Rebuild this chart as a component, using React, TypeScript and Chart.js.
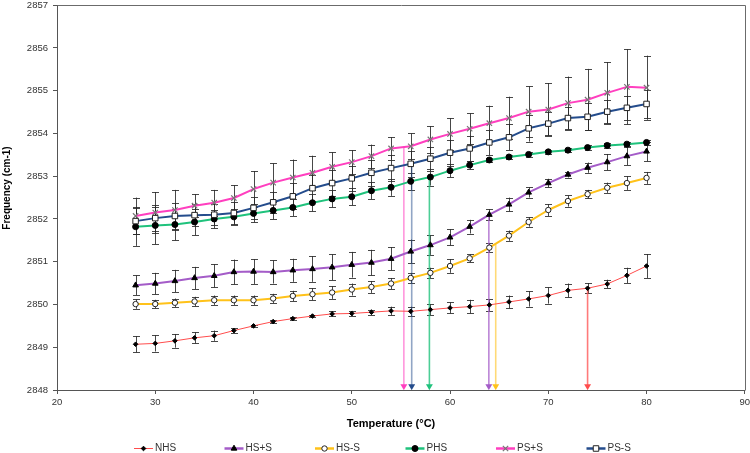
import React, { useEffect, useRef } from "react";
import { Chart, registerables } from "chart.js";

Chart.register(...registerables);

// ---- data ----
const temperatures = [28, 30, 32, 34, 36, 38, 40, 42, 44, 46, 48, 50, 52, 54, 56, 58, 60, 62, 64, 66, 68, 70, 72, 74, 76, 78, 80];

const seriesNames = ["NHS", "HS+S", "HS-S", "PHS", "PS+S", "PS-S"];

const nhs = [2849.07, 2849.09, 2849.15, 2849.22, 2849.27, 2849.39, 2849.5, 2849.6, 2849.67, 2849.73, 2849.78, 2849.79, 2849.82, 2849.85, 2849.84, 2849.88, 2849.92, 2849.95, 2849.99, 2850.06, 2850.13, 2850.21, 2850.33, 2850.38, 2850.48, 2850.68, 2850.9];
const nhsErr = [0.19, 0.19, 0.16, 0.13, 0.12, 0.06, 0.03, 0.03, 0.03, 0.03, 0.06, 0.06, 0.06, 0.1, 0.11, 0.13, 0.13, 0.16, 0.14, 0.15, 0.18, 0.19, 0.16, 0.12, 0.1, 0.18, 0.28];

const hsPlus = [2850.45, 2850.49, 2850.55, 2850.62, 2850.67, 2850.76, 2850.77, 2850.76, 2850.8, 2850.83, 2850.87, 2850.93, 2850.98, 2851.07, 2851.24, 2851.39, 2851.57, 2851.82, 2852.1, 2852.34, 2852.62, 2852.84, 2853.04, 2853.2, 2853.33, 2853.47, 2853.58];
const hsPlusErr = [0.23, 0.25, 0.26, 0.26, 0.27, 0.29, 0.29, 0.27, 0.27, 0.3, 0.3, 0.3, 0.3, 0.27, 0.28, 0.23, 0.19, 0.16, 0.13, 0.16, 0.12, 0.1, 0.07, 0.12, 0.19, 0.21, 0.23];

const hsMinus = [2850.01, 2850.01, 2850.04, 2850.07, 2850.1, 2850.1, 2850.1, 2850.14, 2850.2, 2850.24, 2850.28, 2850.35, 2850.41, 2850.49, 2850.62, 2850.74, 2850.9, 2851.08, 2851.33, 2851.61, 2851.93, 2852.21, 2852.42, 2852.58, 2852.73, 2852.84, 2852.96];
const hsMinusErr = [0.11, 0.1, 0.1, 0.11, 0.11, 0.11, 0.11, 0.11, 0.12, 0.14, 0.15, 0.14, 0.14, 0.13, 0.12, 0.12, 0.16, 0.09, 0.11, 0.12, 0.11, 0.14, 0.13, 0.1, 0.12, 0.16, 0.14];

const phs = [2851.82, 2851.85, 2851.87, 2851.93, 2852.0, 2852.05, 2852.13, 2852.2, 2852.27, 2852.38, 2852.47, 2852.52, 2852.66, 2852.74, 2852.88, 2852.98, 2853.13, 2853.26, 2853.38, 2853.45, 2853.51, 2853.57, 2853.61, 2853.67, 2853.72, 2853.75, 2853.79];
const phsErr = [0.45, 0.44, 0.37, 0.31, 0.22, 0.19, 0.21, 0.21, 0.2, 0.2, 0.2, 0.2, 0.2, 0.2, 0.2, 0.2, 0.15, 0.1, 0.05, 0.05, 0.05, 0.05, 0.05, 0.05, 0.05, 0.05, 0.05];

const psPlus = [2852.07, 2852.15, 2852.21, 2852.31, 2852.38, 2852.49, 2852.7, 2852.85, 2852.97, 2853.08, 2853.22, 2853.33, 2853.47, 2853.65, 2853.7, 2853.86, 2853.99, 2854.11, 2854.24, 2854.36, 2854.51, 2854.56, 2854.71, 2854.79, 2854.95, 2855.09, 2855.07];
const psPlusErr = [0.43, 0.48, 0.47, 0.27, 0.3, 0.3, 0.42, 0.45, 0.42, 0.4, 0.34, 0.28, 0.27, 0.26, 0.3, 0.31, 0.37, 0.36, 0.41, 0.5, 0.59, 0.62, 0.62, 0.72, 0.72, 0.88, 0.75];

const psMinus = [2851.95, 2852.02, 2852.07, 2852.09, 2852.1, 2852.14, 2852.26, 2852.39, 2852.53, 2852.72, 2852.84, 2852.95, 2853.08, 2853.19, 2853.29, 2853.41, 2853.55, 2853.65, 2853.79, 2853.91, 2854.12, 2854.23, 2854.36, 2854.39, 2854.51, 2854.6, 2854.69];
const psMinusErr = [0.3, 0.3, 0.3, 0.25, 0.25, 0.25, 0.25, 0.25, 0.3, 0.3, 0.3, 0.3, 0.3, 0.3, 0.3, 0.28, 0.3, 0.3, 0.3, 0.3, 0.31, 0.27, 0.26, 0.32, 0.27, 0.28, 0.33];

// transition markers (vertical arrows): order PS+S, PS-S, PHS, HS+S, HS-S, NHS
const arrowSeries = [4, 5, 3, 1, 2, 0];
const arrowX = [55.3, 56.1, 57.9, 63.95, 64.65, 74.0];
const arrowTop = [2853.68, 2853.3, 2852.97, 2852.1, 2851.4, 2850.38];
const arrowBottom = 2848.09;

const xTicks = [20, 30, 40, 50, 60, 70, 80, 90];
const yMin = 2848;
const yMax = 2857;

// ---- styles ----
const FONT = "'Liberation Sans', Arial, sans-serif";
const seriesValues = [nhs, hsPlus, hsMinus, phs, psPlus, psMinus];
const seriesErrors = [nhsErr, hsPlusErr, hsMinusErr, phsErr, psPlusErr, psMinusErr];
const lineColors = ["#ff4d4d", "#a45cc8", "#ffc21a", "#1fc27c", "#ff3fbf", "#244c8c"];
const arrowLineColors = ["rgba(255,77,77,0.75)", "rgba(164,92,200,0.75)", "rgba(255,194,26,0.6)", "rgba(31,194,124,0.8)", "rgba(255,63,191,0.55)", "rgba(36,76,140,0.5)"];
const lineWidths = [1, 2, 2, 2, 2, 2];
const markerStyles = ["rectRot", "triangle", "circle", "circle", "crossRot", "rect"];
const markerRadius = [2.3, 3.3, 2.7, 3, 3.8, 3.9];
const markerFill = ["#000", "#000", "#fff", "#000", "#777", "#fff"];
const markerStroke = ["#000", "#000", "#222", "#000", "#777", "#222"];

function drawMarker(ctx: CanvasRenderingContext2D, i: number, x: number, y: number) {
  const r = markerRadius[i];
  const st = markerStyles[i];
  ctx.save();
  ctx.fillStyle = markerFill[i];
  ctx.strokeStyle = markerStroke[i];
  ctx.lineWidth = 1;
  ctx.beginPath();
  if (st === "circle") {
    ctx.arc(x, y, r, 0, Math.PI * 2);
    ctx.fill();
    ctx.stroke();
  } else if (st === "rect") {
    const s = r * Math.SQRT1_2;
    ctx.rect(x - s, y - s, 2 * s, 2 * s);
    ctx.fill();
    ctx.stroke();
  } else if (st === "rectRot") {
    ctx.moveTo(x, y - r);
    ctx.lineTo(x + r, y);
    ctx.lineTo(x, y + r);
    ctx.lineTo(x - r, y);
    ctx.closePath();
    ctx.fill();
    ctx.stroke();
  } else if (st === "triangle") {
    ctx.moveTo(x, y - r);
    ctx.lineTo(x + r * 0.866, y + r * 0.5);
    ctx.lineTo(x - r * 0.866, y + r * 0.5);
    ctx.closePath();
    ctx.fill();
    ctx.stroke();
  } else if (st === "crossRot") {
    const s = r * Math.SQRT1_2;
    ctx.moveTo(x - s, y - s);
    ctx.lineTo(x + s, y + s);
    ctx.moveTo(x + s, y - s);
    ctx.lineTo(x - s, y + s);
    ctx.lineWidth = 1.2;
    ctx.stroke();
  }
  ctx.restore();
}

const errorBarPlugin = {
  id: "errorBars",
  beforeDatasetsDraw(chart: any) {
    const ctx = chart.ctx;
    const yScale = chart.scales.y;
    ctx.save();
    ctx.strokeStyle = "rgba(40,40,40,0.85)";
    ctx.lineWidth = 1;
    chart.data.datasets.forEach((ds: any, di: number) => {
      if (!ds.errors) return;
      const meta = chart.getDatasetMeta(di);
      meta.data.forEach((pt: any, j: number) => {
        const v = ds.data[j].y;
        const e = ds.errors[j];
        const x = Math.round(pt.x) + 0.5;
        const y1 = yScale.getPixelForValue(v + e);
        const y2 = yScale.getPixelForValue(v - e);
        ctx.beginPath();
        ctx.moveTo(x, y1);
        ctx.lineTo(x, y2);
        ctx.moveTo(x - 3.5, Math.round(y1) + 0.5);
        ctx.lineTo(x + 3.5, Math.round(y1) + 0.5);
        ctx.moveTo(x - 3.5, Math.round(y2) + 0.5);
        ctx.lineTo(x + 3.5, Math.round(y2) + 0.5);
        ctx.stroke();
      });
    });
    ctx.restore();
  },
};

const decorPlugin = {
  id: "decor",
  afterDraw(chart: any) {
    const ctx = chart.ctx;
    const a = chart.chartArea;
    ctx.save();
    // top & right frame
    ctx.strokeStyle = "#6b6b6b";
    ctx.lineWidth = 1;
    ctx.beginPath();
    ctx.moveTo(Math.round(a.left) + 0.5, Math.round(a.top) + 0.5);
    ctx.lineTo(Math.round(a.right) + 0.5, Math.round(a.top) + 0.5);
    ctx.lineTo(Math.round(a.right) + 0.5, Math.round(a.bottom) + 0.5);
    ctx.stroke();

    // axis titles
    ctx.fillStyle = "#000";
    ctx.textAlign = "center";
    ctx.textBaseline = "middle";
    ctx.font = `bold 11px ${FONT}`;
    ctx.fillText("Temperature (°C)", 391, 424);
    ctx.save();
    ctx.translate(7, 188);
    ctx.rotate(-Math.PI / 2);
    ctx.font = `bold 10px ${FONT}`;
    ctx.fillText("Frequency (cm-1)", 0, 0);
    ctx.restore();

    // legend
    const ly = 448.5;
    ctx.font = `10px ${FONT}`;
    ctx.textAlign = "left";
    seriesNames.forEach((name, i) => {
      const x0 = 134 + i * 90.5;
      ctx.strokeStyle = lineColors[i];
      ctx.lineWidth = i === 0 ? 1 : 2.5;
      ctx.beginPath();
      ctx.moveTo(x0, ly);
      ctx.lineTo(x0 + 19, ly);
      ctx.stroke();
      drawMarker(ctx, i, x0 + 9.5, ly);
      ctx.fillStyle = "#333";
      ctx.fillText(name, x0 + 21, ly);
    });
    ctx.restore();
  },
};

export default function App() {
  const ref = useRef<HTMLCanvasElement>(null);

  useEffect(() => {
    document.body.style.margin = "0";
    Chart.defaults.font.family = FONT;

    const seriesDatasets = seriesNames.map((name, i) => ({
      type: "line" as const,
      label: name,
      data: temperatures.map((t, j) => ({ x: t, y: seriesValues[i][j] })),
      errors: seriesErrors[i],
      borderColor: lineColors[i],
      borderWidth: lineWidths[i],
      pointStyle: markerStyles[i],
      pointRadius: markerRadius[i],
      pointBackgroundColor: markerFill[i],
      pointBorderColor: markerStroke[i],
      pointBorderWidth: markerStyles[i] === "crossRot" ? 1.2 : 1,
      tension: 0,
      fill: false,
      order: 6 - i,
    }));

    const arrowDatasets = arrowSeries.map((si, k) => ({
      type: "line" as const,
      label: "arrow" + k,
      data: [
        { x: arrowX[k], y: arrowTop[k] },
        { x: arrowX[k], y: arrowBottom },
      ],
      borderColor: arrowLineColors[si],
      borderWidth: 1.6,
      pointStyle: "triangle",
      rotation: 180,
      pointRadius: [0, 4],
      pointBackgroundColor: lineColors[si],
      pointBorderColor: lineColors[si],
      pointBorderWidth: 0,
      tension: 0,
      fill: false,
      order: 10,
    }));

    const chart = new Chart(ref.current as HTMLCanvasElement, {
      type: "line",
      data: { datasets: [...seriesDatasets, ...arrowDatasets] as any },
      plugins: [errorBarPlugin, decorPlugin],
      options: {
        animation: false,
        responsive: false,
        maintainAspectRatio: false,
        layout: { padding: { top: 5, left: 0, right: 0, bottom: 0 } },
        plugins: { legend: { display: false }, tooltip: { enabled: false } },
        elements: { line: { borderJoinStyle: "round" } },
        scales: {
          x: {
            type: "linear",
            min: 20,
            max: 90,
            afterBuildTicks: (scale: any) => {
              scale.ticks = xTicks.map((v) => ({ value: v }));
            },
            afterFit: (scale: any) => {
              scale.height = 63;
              scale.paddingLeft = 0;
              scale.paddingRight = 5;
            },
            grid: { drawOnChartArea: false, drawTicks: true, tickLength: 4, color: "#555" },
            border: { display: true, color: "#555", width: 1 },
            ticks: {
              color: "#333",
              font: { size: 9.5, family: FONT },
              padding: 3,
              maxRotation: 0,
              autoSkip: false,
              callback: (v: any) => String(v),
            },
          },
          y: {
            type: "linear",
            min: yMin,
            max: yMax,
            afterFit: (scale: any) => {
              scale.width = 57;
              scale.paddingTop = 0;
              scale.paddingBottom = 0;
            },
            grid: { drawOnChartArea: false, drawTicks: true, tickLength: 4, color: "#555" },
            border: { display: true, color: "#555", width: 1 },
            ticks: {
              color: "#333",
              font: { size: 9.5, family: FONT },
              padding: 5,
              stepSize: 1,
              autoSkip: false,
              callback: (v: any) => String(v),
            },
          },
        },
      } as any,
    });
    return () => chart.destroy();
  }, []);

  return (
    <div style={{ width: 750, height: 453 }}>
      <canvas ref={ref} width={750} height={453} style={{ display: "block", width: 750, height: 453 }} />
    </div>
  );
}
